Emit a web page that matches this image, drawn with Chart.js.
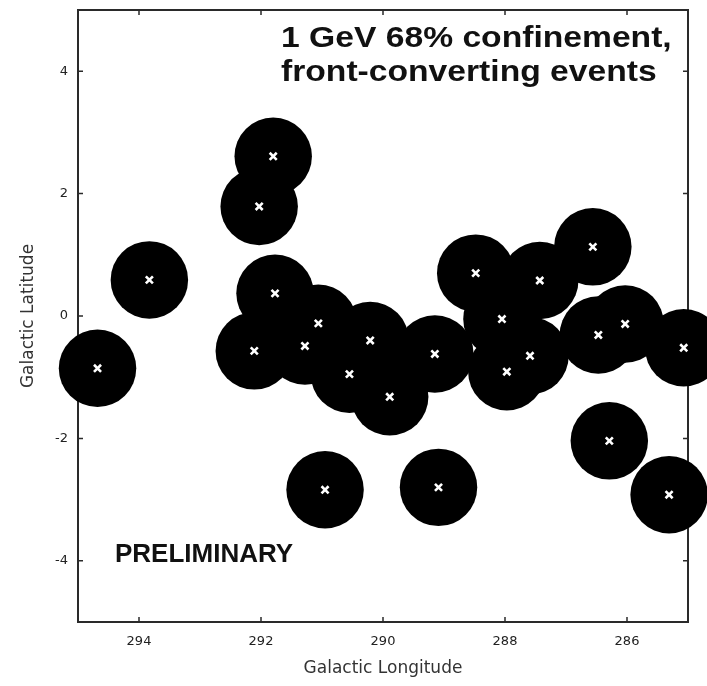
<!DOCTYPE html>
<html>
<head>
<meta charset="utf-8">
<script src="https://cdn.jsdelivr.net/npm/chart.js@4/dist/chart.umd.min.js"></script>
<style>
  html, body { margin: 0; padding: 0; background: #ffffff; }
  #wrap { width: 707px; height: 686px; }
</style>
</head>
<body>
<div id="wrap"><canvas id="c" width="707" height="686"></canvas></div>
<script>
// Source positions (Galactic coordinates, degrees)
const longitudes = [291.80, 292.03, 293.83, 291.77, 291.06, 291.28, 292.11, 290.21, 290.55, 294.68, 290.95,
                    289.15, 289.89, 288.48, 287.43, 286.56, 288.05, 287.59, 287.97, 286.47, 286.03, 285.07,
                    286.29, 285.31, 289.09];
const latitudes  = [2.61, 1.79, 0.59, 0.37, -0.12, -0.49, -0.57, -0.40, -0.95, -0.855, -2.84,
                    -0.62, -1.32, 0.70, 0.58, 1.13, -0.05, -0.65, -0.91, -0.31, -0.13, -0.52,
                    -2.04, -2.92, -2.80];
const psfRadiusDeg = 0.635;   // 68% containment radius at 1 GeV
const xTickValues = [294, 292, 290, 288, 286];
const yTickValues = [-4, -2, 0, 2, 4];
const xRange = [285, 295];
const yRange = [-5, 5];
const titleLines = ['1 GeV 68% confinement,', 'front-converting events'];
const stampText = 'PRELIMINARY';

const points = longitudes.map((l, i) => ({ x: l, y: latitudes[i] }));

Chart.defaults.font.family = "'DejaVu Sans', 'Liberation Sans', Arial, sans-serif";

const framePlugin = {
  id: 'frame',
  beforeDatasetsDraw(chart) {
    const { ctx, chartArea: a, scales } = chart;
    ctx.save();
    ctx.strokeStyle = '#2a2a2a';
    ctx.lineWidth = 2;
    ctx.strokeRect(a.left, a.top, a.right - a.left, a.bottom - a.top);
    ctx.lineWidth = 1.5;
    const tl = 5;
    ctx.beginPath();
    xTickValues.forEach(v => {
      const px = scales.x.getPixelForValue(v);
      ctx.moveTo(px, a.bottom); ctx.lineTo(px, a.bottom - tl);
      ctx.moveTo(px, a.top); ctx.lineTo(px, a.top + tl);
    });
    yTickValues.forEach(v => {
      const py = scales.y.getPixelForValue(v);
      ctx.moveTo(a.left, py); ctx.lineTo(a.left + tl, py);
      ctx.moveTo(a.right, py); ctx.lineTo(a.right - tl, py);
    });
    ctx.stroke();
    ctx.restore();
  },
  afterDraw(chart) {
    const { ctx, chartArea: a } = chart;
    ctx.save();
    ctx.fillStyle = '#111111';
    ctx.textAlign = 'left';
    ctx.textBaseline = 'alphabetic';
    ctx.font = "bold 29px 'Liberation Sans', Arial, sans-serif";
    const sx = 1.16;
    const baseX = a.left + 203;
    [[titleLines[0], a.top + 37], [titleLines[1], a.top + 71]].forEach(([t, y]) => {
      ctx.save();
      ctx.translate(baseX, y);
      ctx.scale(sx, 1);
      ctx.fillText(t, 0, 0);
      ctx.restore();
    });
    ctx.font = "bold 26px 'Liberation Sans', Arial, sans-serif";
    ctx.fillText(stampText, a.left + 37, a.top + 552);
    ctx.restore();
  }
};

function radiusPx(context) {
  const sc = context.chart.scales && context.chart.scales.x;
  if (!sc) return 39;
  const r = Math.abs(sc.getPixelForValue(290) - sc.getPixelForValue(290 + psfRadiusDeg));
  return isFinite(r) && r > 0 ? r : 39;
}

new Chart(document.getElementById('c'), {
  type: 'scatter',
  data: {
    datasets: [
      {
        label: 'source position',
        data: points,
        order: 0,
        pointStyle: 'crossRot',
        pointRadius: 5,
        pointBorderColor: '#ffffff',
        pointBorderWidth: 2.6,
        pointBackgroundColor: '#ffffff',
        clip: false
      },
      {
        label: '68% containment',
        data: points,
        order: 1,
        pointStyle: 'circle',
        pointRadius: radiusPx,
        pointBackgroundColor: '#000000',
        pointBorderWidth: 0,
        pointBorderColor: '#000000',
        clip: false
      }
    ]
  },
  options: {
    responsive: false,
    animation: false,
    devicePixelRatio: 1,
    events: [],
    layout: { autoPadding: false, padding: { left: 0, top: 10, right: 19, bottom: 0 } },
    plugins: { legend: { display: false }, tooltip: { enabled: false } },
    scales: {
      x: {
        type: 'linear',
        reverse: true,
        min: xRange[0], max: xRange[1],
        afterBuildTicks: s => { s.ticks = xTickValues.map(v => ({ value: v })); },
        afterFit: s => { s.height = 64; s.paddingLeft = 0; s.paddingRight = 0; },
        grid: { display: false, drawTicks: false },
        border: { display: false },
        ticks: { color: '#222222', font: { size: 13 }, padding: 12, maxRotation: 0 },
        title: { display: true, text: 'Galactic Longitude', color: '#333333', font: { size: 17 }, padding: { top: 0, bottom: 7 } }
      },
      y: {
        type: 'linear',
        min: yRange[0], max: yRange[1],
        afterBuildTicks: s => { s.ticks = yTickValues.map(v => ({ value: v })); },
        afterFit: s => { s.width = 78; s.paddingTop = 0; s.paddingBottom = 0; },
        grid: { display: false, drawTicks: false },
        border: { display: false },
        ticks: { color: '#222222', font: { size: 13 }, padding: 10 },
        title: { display: true, text: 'Galactic Latitude', color: '#333333', font: { size: 17 }, padding: { top: 18, bottom: 0 } }
      }
    }
  },
  plugins: [framePlugin]
});
</script>
</body>
</html>
